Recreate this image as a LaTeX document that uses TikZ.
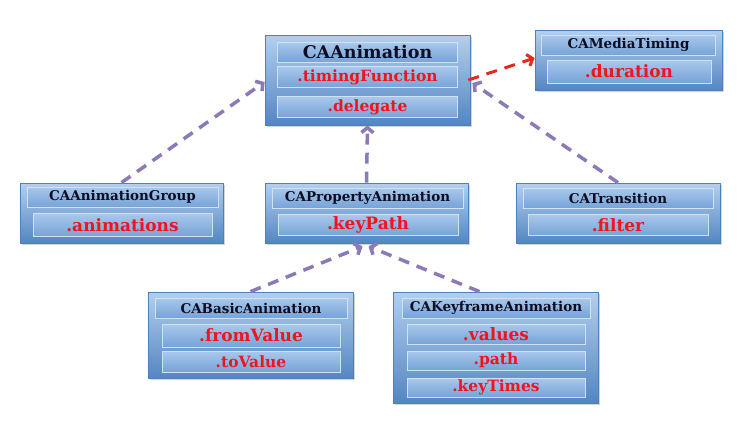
\documentclass[tikz,border=0pt]{standalone}
\usepackage{fontspec}
\setmainfont{DejaVu Serif}
\usepackage{tikz}
\usetikzlibrary{arrows.meta, shadows}
\definecolor{boxtop}{HTML}{B3CFEE}
\definecolor{boxbottom}{HTML}{5386C2}
\definecolor{boxedge}{HTML}{4F80BA}
\definecolor{striptop}{HTML}{A9C8EB}
\definecolor{stripbottom}{HTML}{76A3D8}
\definecolor{stripedge}{HTML}{CFE1F4}
\definecolor{titleink}{HTML}{0C0C22}
\definecolor{propred}{HTML}{F0141E}
\definecolor{linkpurple}{HTML}{8C7AB8}
\definecolor{linkred}{HTML}{E8281E}

\begin{document}
\begin{tikzpicture}[x=1pt, y=-1pt,
  classbox/.style={rectangle, draw=boxedge, line width=0.8pt, top color=boxtop, bottom color=boxbottom, inner sep=0pt, drop shadow={opacity=0.35, shadow xshift=1.5pt, shadow yshift=-2pt}},
  titlebar/.style={rectangle, draw=stripedge, line width=0.8pt, top color=striptop, bottom color=stripbottom, inner sep=0pt, minimum height=20pt, text=titleink, font=\fontsize{13.5}{14}\selectfont\bfseries},
  propbar/.style={titlebar, text=propred, font=\fontsize{17}{18}\selectfont\bfseries},
  subbar/.style={titlebar, text=propred, font=\fontsize{15.5}{16}\selectfont\bfseries},
  arrow/.style={-{Straight Barb[length=5pt, width=12pt]}, line width=3.5pt, dash pattern=on 11pt off 8pt, draw=linkpurple},
  redarrow/.style={arrow, line width=3pt, draw=linkred}
]
  \useasboundingbox (0,0) rectangle (749,424);

  % class boxes
  \node[classbox, minimum width=205pt, minimum height=90pt] (anim) at (367.5,80) {};
  \node[classbox, minimum width=187pt, minimum height=60pt] (mt) at (628.5,60) {};
  \node[classbox, minimum width=203pt, minimum height=60pt] (grp) at (121.5,213) {};
  \node[classbox, minimum width=203pt, minimum height=60pt] (prop) at (366.5,213) {};
  \node[classbox, minimum width=204pt, minimum height=60pt] (tr) at (618,213) {};
  \node[classbox, minimum width=205pt, minimum height=86pt] (basic) at (250.5,335) {};
  \node[classbox, minimum width=205pt, minimum height=111pt] (kf) at (495.5,347.5) {};

  % CAAnimation
  \node[titlebar, minimum width=180pt, font=\fontsize{17.5}{18}\selectfont\bfseries] (anim-t) at (367.5,52) {CAAnimation};
  \node[subbar, minimum width=180pt, minimum height=21pt] (anim-p1) at (367.5,77) {.timingFunction};
  \node[subbar, minimum width=180pt, minimum height=21pt] (anim-p2) at (367.5,107) {.delegate};

  % CAMediaTiming
  \node[titlebar, minimum width=174pt] (mt-t) at (628.5,45) {CAMediaTiming};
  \node[propbar, minimum width=164pt, minimum height=23pt] (mt-p1) at (629,71.5) {.duration};

  % CAAnimationGroup
  \node[titlebar, minimum width=191pt] (grp-t) at (122.5,197) {CAAnimationGroup};
  \node[propbar, minimum width=179pt, minimum height=23pt] (grp-p1) at (122.5,225) {.animations};

  % CAPropertyAnimation
  \node[titlebar, minimum width=191pt] (prop-t) at (367.5,198) {CAPropertyAnimation};
  \node[propbar, minimum width=180pt, minimum height=21pt] (prop-p1) at (368,225) {.keyPath};

  % CATransition
  \node[titlebar, minimum width=190pt] (tr-t) at (618,198) {CATransition};
  \node[propbar, minimum width=180pt, minimum height=21pt] (tr-p1) at (618,225) {.filter};

  % CABasicAnimation
  \node[titlebar, minimum width=192pt] (basic-t) at (251,308) {CABasicAnimation};
  \node[propbar, minimum width=178pt, minimum height=23pt] (basic-p1) at (251,335.5) {.fromValue};
  \node[subbar, minimum width=178pt, minimum height=21pt] (basic-p2) at (251,361.5) {.toValue};

  % CAKeyframeAnimation
  \node[titlebar, minimum width=188pt] (kf-t) at (496,308) {CAKeyframeAnimation};
  \node[propbar, minimum width=178pt, minimum height=20pt] (kf-p1) at (496,334) {.values};
  \node[subbar, minimum width=178pt, minimum height=19pt] (kf-p2) at (496,360.5) {.path};
  \node[subbar, minimum width=178pt, minimum height=19pt] (kf-p3) at (496,387.5) {.keyTimes};

  % inheritance links
  \draw[arrow] (grp.north) -- ([yshift=-2pt]anim.west);
  \draw[arrow] (prop.north) -- (anim.south);
  \draw[arrow] (tr.north) -- ([xshift=2pt, yshift=-3pt]anim.east);
  \draw[arrow] (basic.north) -- ([xshift=-4pt, yshift=-3pt]prop.south);
  \draw[arrow] ([xshift=-16pt]kf.north) -- ([xshift=2pt, yshift=-3pt]prop.south);
  \draw[redarrow] ([xshift=-2pt]anim.east) -- ([yshift=2pt]mt.west);
\end{tikzpicture}
\end{document}
